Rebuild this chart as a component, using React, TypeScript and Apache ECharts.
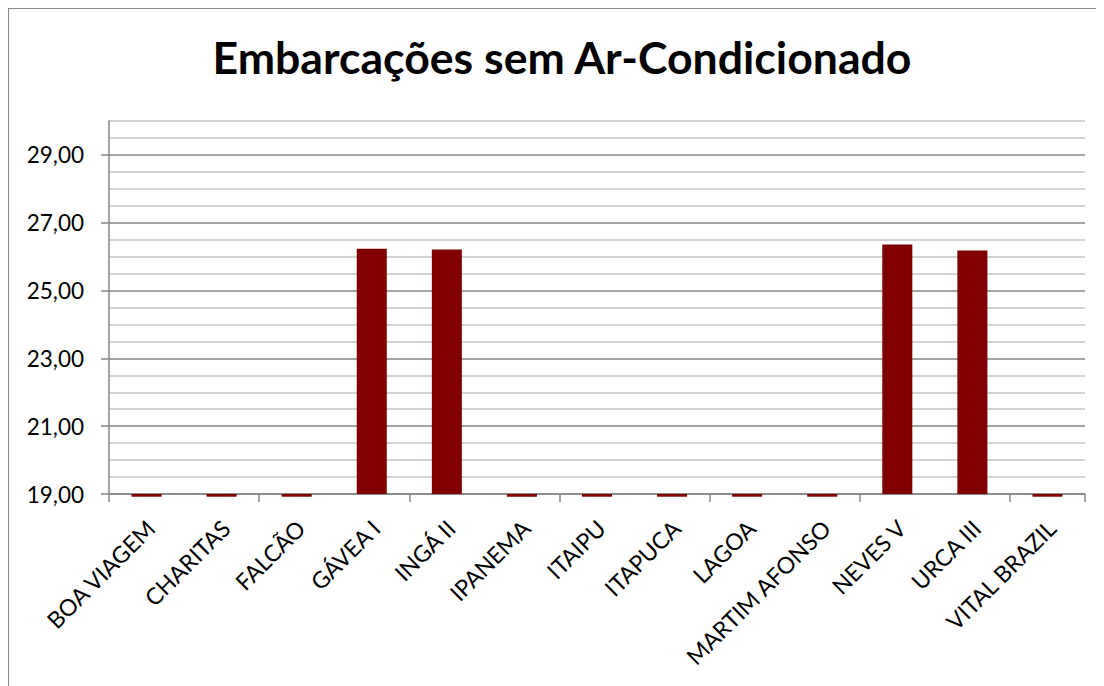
import React, { useEffect, useRef } from "react";
import * as echarts from "echarts";

const titleText = "Embarcações sem Ar-Condicionado";
const categories = [
  "BOA VIAGEM", "CHARITAS", "FALCÃO", "GÁVEA I", "INGÁ II", "IPANEMA", "ITAIPU",
  "ITAPUCA", "LAGOA", "MARTIM AFONSO", "NEVES V", "URCA III", "VITAL BRAZIL",
];
// values below the axis minimum (19) show as a thin sliver under the baseline, as in the original
const values = [18.92, 18.92, 18.92, 26.23, 26.21, 18.92, 18.92, 18.92, 18.92, 18.92, 26.36, 26.18, 18.92];
const yMin = 19;
const yMax = 30;
const minorStep = 0.5;
const majorTicks = [19, 21, 23, 25, 27, 29];

const fmt = (v: number) => v.toFixed(2).replace(".", ",");

export default function App() {
  const ref = useRef<HTMLDivElement>(null);
  useEffect(() => {
    if (!ref.current) return;
    const chart = echarts.init(ref.current, undefined, { renderer: "svg" });
    const gridColors = ["#868686", "#c4c4c4", "#c4c4c4", "#c4c4c4"];
    const axisGray = "#868686";
    const font = "Lato";
    chart.setOption({
      animation: false,
      title: {
        text: titleText,
        left: 548,
        textAlign: "center",
        top: 20,
        textStyle: { fontFamily: font, fontWeight: "bold", fontSize: 44.6, color: "#000" },
      },
      grid: [
        { left: 100, top: 112, right: 19, bottom: 192, containLabel: false },
        { left: 104, top: 112, right: 15, bottom: 192, containLabel: false },
      ],
      xAxis: [
        {
          type: "category",
          gridIndex: 0,
          data: categories,
          axisLine: { show: true, lineStyle: { color: axisGray, width: 1.5 } },
          axisTick: { show: true, length: 8, lineStyle: { color: axisGray, width: 1.5 } },
          axisLabel: { show: false },
        },
        {
          type: "category",
          gridIndex: 1,
          data: categories,
          axisLine: { show: false },
          axisTick: { show: false },
          axisLabel: {
            rotate: 45,
            interval: 0,
            margin: 30,
            fontFamily: font,
            fontSize: 23,
            color: "#000",
          },
        },
      ],
      yAxis: [
        {
          type: "value",
          gridIndex: 0,
          min: yMin,
          max: yMax,
          interval: minorStep,
          axisLine: { show: true, lineStyle: { color: axisGray, width: 1.5 } },
          axisTick: { show: false },
          splitLine: { show: true, lineStyle: { color: gridColors, width: 1.5 } },
          axisLabel: {
            margin: 25,
            fontFamily: font,
            fontSize: 22.5,
            color: "#000",
            customValues: majorTicks,
            formatter: (v: number) => fmt(v),
          },
        },
        {
          type: "value",
          gridIndex: 1,
          min: yMin,
          max: yMax,
          show: false,
        },
        {
          type: "value",
          gridIndex: 0,
          min: yMin,
          max: yMax,
          position: "left",
          axisLine: { show: false },
          axisLabel: { show: false },
          splitLine: { show: false },
          axisTick: { show: true, length: 8, customValues: majorTicks, lineStyle: { color: axisGray, width: 1.5 } },
        },
      ],
      series: [
        {
          type: "bar",
          name: "base",
          xAxisIndex: 0,
          yAxisIndex: 0,
          data: categories.map(() => yMin),
          stack: "s",
          stackStrategy: "all",
          barWidth: "40%",
          clip: false,
          silent: true,
          itemStyle: { color: "rgba(0,0,0,0)" },
        },
        {
          type: "bar",
          name: "valor",
          xAxisIndex: 0,
          yAxisIndex: 0,
          data: values.map((v) => +(v - yMin).toFixed(4)),
          stack: "s",
          stackStrategy: "all",
          barWidth: "40%",
          clip: false,
          itemStyle: { color: "#800000" },
        },
      ],
    });
    return () => chart.dispose();
  }, []);
  return (
    <div
      ref={ref}
      style={{
        width: 1096,
        height: 678,
        borderTop: "1.5px solid #888",
        borderLeft: "1.5px solid #888",
        boxSizing: "border-box",
        background: "#fff",
      }}
    />
  );
}
